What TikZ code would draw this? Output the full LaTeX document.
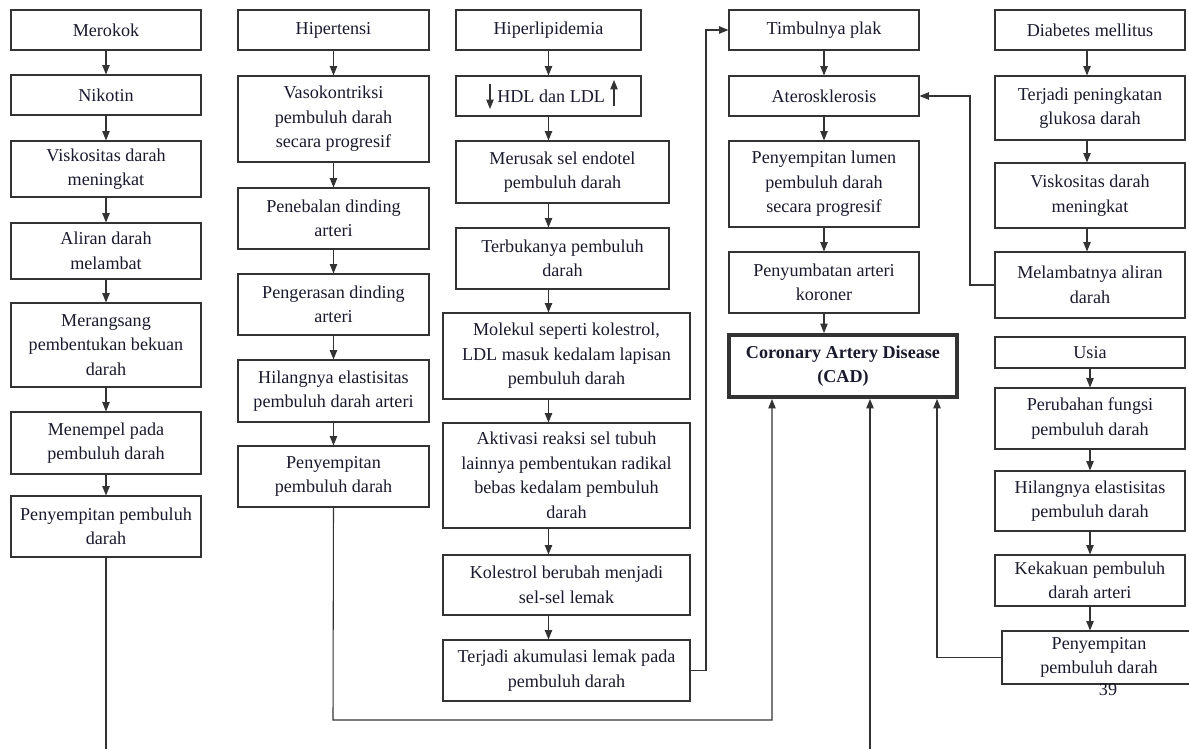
\documentclass[tikz,border=0pt]{standalone}
\usepackage{fontspec}
\setmainfont{Liberation Serif}
\usetikzlibrary{arrows.meta}
\definecolor{ln}{HTML}{333333}
\definecolor{tx}{HTML}{1A1A2E}
\tikzset{
  box/.style={draw=ln,line width=0.8pt,inner sep=0pt,align=center,text=tx,font=\fontsize{13.6}{18.4}\selectfont},
  cadbox/.style={box,line width=3pt,font=\fontsize{13.6}{18.4}\selectfont\bfseries},
  arr/.style={draw=ln,line width=0.8pt,-{Triangle[length=7pt,width=5.5pt]}},
  ln/.style={draw=ln,line width=0.8pt},
}
\newcommand\bx[7][box]{%
  \pgfmathsetmacro\cx{(#3+#5)/2}\pgfmathsetmacro\cy{(#4+#6)/2}%
  \pgfmathsetmacro\ww{(#5-#3)*0.75}\pgfmathsetmacro\hh{(#6-#4)*0.75}%
  \node[#1,minimum width=\ww pt,minimum height=\hh pt] (#2) at (\cx,\cy) {#7};}
\begin{document}
\begin{tikzpicture}[x=0.75pt,y=-0.75pt]
\useasboundingbox[fill=white] (0,0) rectangle (1189,749);
% column 1
\bx{a1}{11}{10}{201}{50}{Merokok}
\bx{a2}{11}{75}{201}{115}{Nikotin}
\bx{a3}{11}{141}{201}{197}{Viskositas darah\\meningkat}
\bx{a4}{11}{223}{201}{279}{Aliran darah\\melambat}
\bx{a5}{11}{303}{201}{387}{Merangsang\\pembentukan bekuan\\darah}
\bx{a6}{11}{412}{201}{474}{Menempel pada\\pembuluh darah}
\bx{a7}{11}{496}{201}{557}{Penyempitan pembuluh\\darah}
% column 2
\bx{b1}{238}{10}{429}{50}{Hipertensi}
\bx{b2}{238}{76}{429}{162}{Vasokontriksi\\pembuluh darah\\secara progresif}
\bx{b3}{238}{188}{429}{249}{Penebalan dinding\\arteri}
\bx{b4}{238}{274}{429}{335}{Pengerasan dinding\\arteri}
\bx{b5}{238}{360}{429}{422}{Hilangnya elastisitas\\pembuluh darah arteri}
\bx{b6}{238}{446}{429}{507}{Penyempitan\\pembuluh darah}
% column 3
\bx{c1}{456}{10}{641}{50}{Hiperlipidemia}
\bx{c2}{456}{76}{641}{116}{\hspace*{4pt}HDL dan LDL}
\bx{c3}{456}{141}{669}{203}{Merusak sel endotel\\pembuluh darah}
\bx{c4}{456}{228}{669}{289}{Terbukanya pembuluh\\darah}
\bx{c5}{443}{313}{690}{399}{Molekul seperti kolestrol,\\LDL masuk kedalam lapisan\\pembuluh darah}
\bx{c6}{443}{423}{690}{528}{Aktivasi reaksi sel tubuh\\lainnya pembentukan radikal\\bebas kedalam pembuluh\\darah}
\bx{c7}{443}{555}{690}{615}{Kolestrol berubah menjadi\\sel-sel lemak}
\bx{c8}{443}{640}{690}{701}{Terjadi akumulasi lemak pada\\pembuluh darah}
% column 4
\bx{d1}{729}{10}{919}{50}{Timbulnya plak}
\bx{d2}{729}{76}{919}{116}{Aterosklerosis}
\bx{d3}{729}{141}{919}{227}{Penyempitan lumen\\pembuluh darah\\secara progresif}
\bx{d4}{729}{252}{919}{313}{Penyumbatan arteri\\koroner}
\bx[cadbox]{cad}{729}{335}{957}{397}{Coronary Artery Disease\\(CAD)}
% column 5
\bx{e1}{995}{10}{1185}{50}{Diabetes mellitus}
\bx{e2}{995}{76}{1185}{140}{Terjadi peningkatan\\glukosa darah}
\bx{e3}{995}{163}{1185}{228}{Viskositas darah\\meningkat}
\bx{e4}{995}{252}{1185}{318}{Melambatnya aliran\\darah}
\bx{f1}{995}{337}{1185}{368}{Usia}
\bx{f2}{995}{388}{1185}{449}{Perubahan fungsi\\pembuluh darah}
\bx{f3}{995}{471}{1185}{531}{Hilangnya elastisitas\\pembuluh darah}
\bx{f4}{995}{555}{1185}{606}{Kekakuan pembuluh\\darah arteri}
\bx{f5}{1002}{631}{1196}{684}{Penyempitan\\pembuluh darah}
\node[text=tx,font=\fontsize{13.6}{14}\selectfont,inner sep=0pt] (pg) at (1108,690) {39};
% HDL / LDL marks
\draw[arr] (490,84) -- (490,109);
\draw[arr] (614,106) -- (614,80);
% column arrows
\foreach \p/\q in {a1/a2,a2/a3,a3/a4,a4/a5,a5/a6,a6/a7,b1/b2,b2/b3,b3/b4,b4/b5,b5/b6,d1/d2,d2/d3,d3/d4,d4/cad,f1/f2,f2/f3,f3/f4}
  \draw[arr] (\p.south) -- (\q.north -| \p.south);
\draw[arr] (e1.south) ++(-3,0) coordinate (ex) -- (e2.north -| ex);
\draw[arr] (e2.south -| ex) -- (e3.north -| ex);
\draw[arr] (e3.south -| ex) -- (e4.north -| ex);
\draw[arr] (f4.south) -- (f5.north -| f4.south);
\foreach \p/\q in {c1/c2,c2/c3,c3/c4,c4/c5,c5/c6,c6/c7,c7/c8}
  \draw[arr] (\p.south -| c1.south) -- (\q.north -| c1.south);
% long connectors
\coordinate (k1) at (106,752);
\draw[ln] (a7.south) -- (k1);
\coordinate (k2) at (333,720);
\coordinate (k3) at (772,720);
\draw[arr] (b6.south) -- (k2) -- (k3) -- (cad.south -| k3);
\coordinate (k4) at (706,400);
\draw[arr] (c8.east) -| (k4) |- (d1.west);
\coordinate (k5) at (870,752);
\draw[arr] (k5) -- (cad.south -| k5);
\coordinate (k6) at (937,500);
\draw[arr] (f5.west) -| (k6) -- (cad.south -| k6);
\coordinate (k7) at (970,200);
\draw[arr] (e4.west) -| (k7) |- (d2.east);
\end{tikzpicture}
\end{document}
